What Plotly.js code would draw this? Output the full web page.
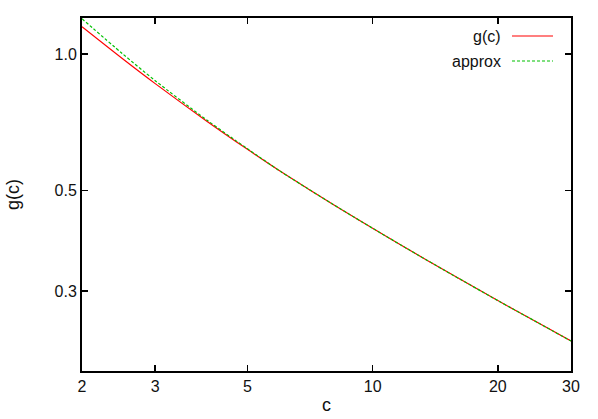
<!DOCTYPE html>
<html>
<head>
<meta charset="utf-8">
<script src="https://cdn.plot.ly/plotly-3.0.1.min.js"></script>
<style>
  html, body { margin: 0; padding: 0; background: #fff; }
  #plot { width: 598px; height: 419px; }
</style>
</head>
<body>
<div id="plot"></div>
<script>
// values
const cValues = [2, 2.5, 3, 4, 5, 6, 7, 8, 10, 12, 15, 20, 25, 30];
const gValues = [1.148, 0.977, 0.860, 0.710, 0.616, 0.551, 0.504, 0.467, 0.4127, 0.3739, 0.3321, 0.2860, 0.2554, 0.2329];
const approxValues = [1.195, 1.002, 0.873, 0.714, 0.618, 0.551, 0.504, 0.467, 0.4127, 0.3739, 0.3321, 0.2860, 0.2554, 0.2329];

const seriesNames = ['g(c)', 'approx'];
const seriesColors = ['#ff0000', '#00c000'];
const seriesDash = ['solid', '3px,2px'];

const xTicks = [2, 3, 5, 10, 20, 30];
const yTicks = [0.3, 0.5, 1.0];
const yTickText = ['0.3', '0.5', '1.0'];

document.addEventListener('DOMContentLoaded', function () {
  const traces = [gValues, approxValues].map(function (ys, i) {
    return {
      x: cValues,
      y: ys,
      mode: 'lines',
      type: 'scatter',
      name: seriesNames[i],
      line: { color: seriesColors[i], width: 1.2, dash: seriesDash[i], shape: 'spline', smoothing: 0.8 },
      showlegend: false
    };
  });

  // gnuplot style key: text on the left, line sample on the right
  const annotations = [];
  const shapes = [];
  seriesNames.forEach(function (name, i) {
    const yPix = 36 + i * 25;
    const yPaper = 1 - (yPix - 18) / (371 - 18);
    annotations.push({
      xref: 'paper', yref: 'paper',
      x: (503 - 82) / (571 - 82), y: yPaper,
      xanchor: 'right', yanchor: 'middle',
      text: name, showarrow: false,
      font: { family: 'Liberation Sans, Arial, sans-serif', size: 16, color: '#111' }
    });
    shapes.push({
      type: 'line', xref: 'paper', yref: 'paper',
      x0: (512 - 82) / (571 - 82), x1: (553 - 82) / (571 - 82),
      y0: yPaper, y1: yPaper,
      line: { color: seriesColors[i], width: 1.2, dash: seriesDash[i] }
    });
  });

  const axisCommon = {
    type: 'log',
    showgrid: false,
    zeroline: false,
    showline: true,
    linecolor: '#000',
    linewidth: 2,
    mirror: 'ticks',
    ticks: 'inside',
    ticklen: 6,
    tickwidth: 1.5,
    tickcolor: '#000',
    tickfont: { family: 'Liberation Sans, Arial, sans-serif', size: 16, color: '#111' }
  };

  const layout = {
    width: 598,
    height: 419,
    margin: { l: 82, r: 27, t: 18, b: 48 },
    paper_bgcolor: '#fff',
    plot_bgcolor: '#fff',
    font: { family: 'Liberation Sans, Arial, sans-serif', size: 16, color: '#111' },
    xaxis: Object.assign({}, axisCommon, {
      range: [Math.log10(2), Math.log10(30)],
      tickvals: xTicks,
      ticktext: xTicks.map(String),
      title: { text: 'c', font: { size: 18 }, standoff: 4 }
    }),
    yaxis: Object.assign({}, axisCommon, {
      range: [Math.log10(0.2), Math.log10(1.2)],
      tickvals: yTicks,
      ticktext: yTickText,
      title: { text: 'g(c)', font: { size: 18 }, standoff: 30 }
    }),
    annotations: annotations,
    shapes: shapes
  };

  Plotly.newPlot('plot', traces, layout, { staticPlot: true });
});
</script>
</body>
</html>
